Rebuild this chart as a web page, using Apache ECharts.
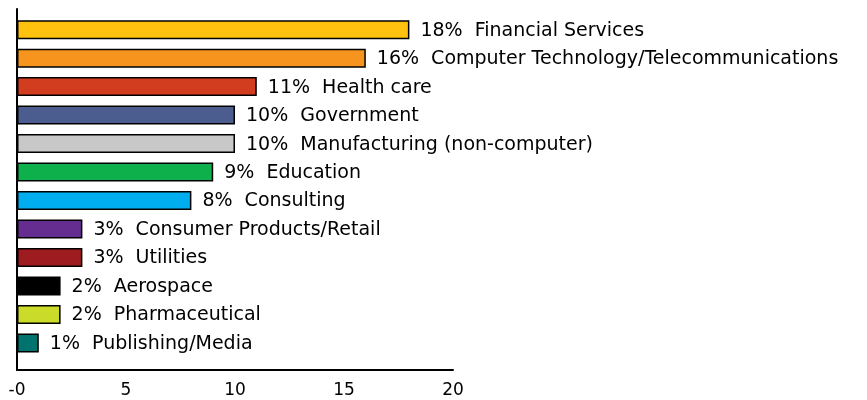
<!DOCTYPE html>
<html>
<head>
<meta charset="utf-8">
<script src="https://cdn.jsdelivr.net/npm/echarts@6/dist/echarts.min.js"></script>
<style>
  html, body { margin: 0; padding: 0; background: #fff; }
  #chart { width: 867px; height: 400px; }
</style>
</head>
<body>
<div id="chart"></div>
<script>
// industries, top to bottom
var sectors = ["Financial Services", "Computer Technology/Telecommunications", "Health care",
  "Government", "Manufacturing (non-computer)", "Education", "Consulting",
  "Consumer Products/Retail", "Utilities", "Aerospace", "Pharmaceutical", "Publishing/Media"];
var shares = [18, 16, 11, 10, 10, 9, 8, 3, 3, 2, 2, 1];
var barColors = ["#FFC20E", "#F7941D", "#D23C1F", "#4B5D8E", "#C8C8C8", "#0DB04B",
  "#00AEEF", "#662D91", "#9E1B20", "#000000", "#CBDB2A", "#00736F"];
var xTicks = [0, 5, 10, 15, 20];

var font = "DejaVu Sans";
var chart = echarts.init(document.getElementById("chart"));

chart.setOption({
  animation: false,
  grid: [
    { left: 17, top: 15.4, width: 436, height: 341.8 },   // bars
    { left: 17, top: 9, width: 436, height: 361 }          // axis frame
  ],
  xAxis: [
    { gridIndex: 0, type: "value", min: 0, max: 20, show: false },
    {
      gridIndex: 1, type: "value", min: xTicks[0], max: xTicks[xTicks.length - 1], interval: 5,
      axisLine: { show: true, lineStyle: { color: "#000", width: 2 } },
      axisTick: { show: false },
      splitLine: { show: false },
      axisLabel: {
        color: "#000", fontFamily: font, fontSize: 17, margin: 12,
        formatter: function (v) { return v === 0 ? "-0" : String(v); }
      }
    }
  ],
  yAxis: [
    { gridIndex: 0, type: "category", inverse: true, data: sectors, show: false },
    {
      gridIndex: 1, type: "value", min: 0, max: 1,
      axisLine: { show: true, lineStyle: { color: "#000", width: 2 } },
      axisTick: { show: false }, axisLabel: { show: false }, splitLine: { show: false }
    }
  ],
  series: [{
    type: "bar",
    xAxisIndex: 0, yAxisIndex: 0,
    barWidth: 19,
    data: shares.map(function (v, i) {
      return { value: v, itemStyle: { color: barColors[i] } };
    }),
    itemStyle: { borderColor: "#000", borderWidth: 1.5 },
    label: {
      show: true, position: "right", distance: 11, offset: [0, 1],
      color: "#000", fontFamily: font, fontSize: 19,
      formatter: function (p) { return shares[p.dataIndex] + "%  " + sectors[p.dataIndex]; }
    }
  }]
});
</script>
</body>
</html>
